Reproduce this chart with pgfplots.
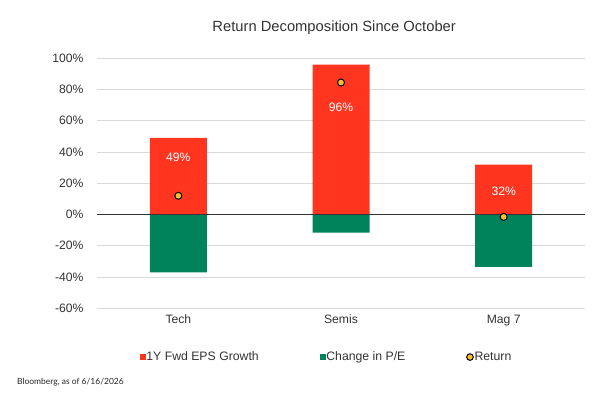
\documentclass[border=0pt]{standalone}
\usepackage{fontspec}
\setmainfont{Liberation Sans}
\newfontfamily\notefont{Lato}
\usepackage{pgfplots}
\pgfplotsset{compat=1.18}

\definecolor{epsred}{HTML}{FF3520}
\definecolor{pegreen}{HTML}{00825A}
\definecolor{retyellow}{HTML}{F9C02E}
\definecolor{gridgray}{HTML}{D9D9D9}
\definecolor{textgray}{HTML}{333333}

\begin{document}
\begin{tikzpicture}[x=1bp,y=1bp]
\useasboundingbox (0,0) rectangle (613,-401);
\begin{axis}[
  at={(97bp,-308.3bp)}, anchor=south west,
  scale only axis, width=488bp, height=250bp,
  xmin=-0.5, xmax=2.5, ymin=-60, ymax=100,
  xtick={0,1,2}, xticklabels={Tech,Semis,Mag 7},
  ytick={-60,-40,-20,0,20,40,60,80,100},
  yticklabels={-60\%,-40\%,-20\%,0\%,20\%,40\%,60\%,80\%,100\%},
  ymajorgrids, grid style={gridgray, line width=1bp},
  axis line style={draw=none}, major tick length=0pt,
  tick label style={font=\fontsize{12.2}{14}\selectfont, text=textgray},
  yticklabel style={xshift=-10bp},
  xticklabel style={yshift=-3bp},
  title={Return Decomposition Since October},
  title style={at={(0.486,1.097)}, anchor=center,
    font=\fontsize{14.8}{17}\selectfont, text=textgray},
  legend columns=3,
  legend style={at={(0.469,-0.195)}, anchor=center, draw=none,
    fill=none, font=\fontsize{12.3}{14}\selectfont, text=textgray,
    /tikz/every odd column/.style={column sep=0bp},
    /tikz/every even column/.style={column sep=60bp},
    inner sep=0pt, nodes={inner sep=0.8bp}},
  legend cell align=left,
]
% EPS growth (positive part of each decomposition)
\addplot[ybar, bar width=57bp, bar shift=0pt, fill=epsred, draw=none,
  legend image code/.code={\fill[epsred] (0bp,-3bp) rectangle (6bp,3bp);}]
  coordinates {(0,49) (1,96) (2,32)};
\addlegendentry{1Y Fwd EPS Growth}
% Multiple change
\addplot[ybar, bar width=57bp, bar shift=0pt, fill=pegreen, draw=none,
  legend image code/.code={\fill[pegreen] (0bp,-3bp) rectangle (6bp,3bp);}]
  coordinates {(0,-37) (1,-11.5) (2,-33.5)};
\addlegendentry{Change in P/E}
% zero line
\draw[textgray, line width=1bp] (axis cs:-0.5,0) -- (axis cs:2.5,0);
% Total return
\addplot[only marks, mark=*, mark size=3.5bp,
  mark options={fill=retyellow, draw=black, line width=1bp},
  legend image code/.code={\draw[fill=retyellow, draw=black, line width=1bp] (3.5bp,0bp) circle (3.3bp);}]
  coordinates {(0,12) (1,84.5) (2,-1.5)};
\addlegendentry{Return}
% value labels
\node[text=white, font=\fontsize{12.2}{14}\selectfont] at (axis cs:0,36.7) {49\%};
\node[text=white, font=\fontsize{12.2}{14}\selectfont] at (axis cs:1,68.8) {96\%};
\node[text=white, font=\fontsize{12.2}{14}\selectfont] at (axis cs:2,14.9) {32\%};
\end{axis}
\node[anchor=west, inner sep=0pt, font=\notefont\fontsize{8.5}{10}\selectfont, text=black!85]
  at (17,-382) {Bloomberg, as of 6/16/2026};
\end{tikzpicture}
\end{document}
